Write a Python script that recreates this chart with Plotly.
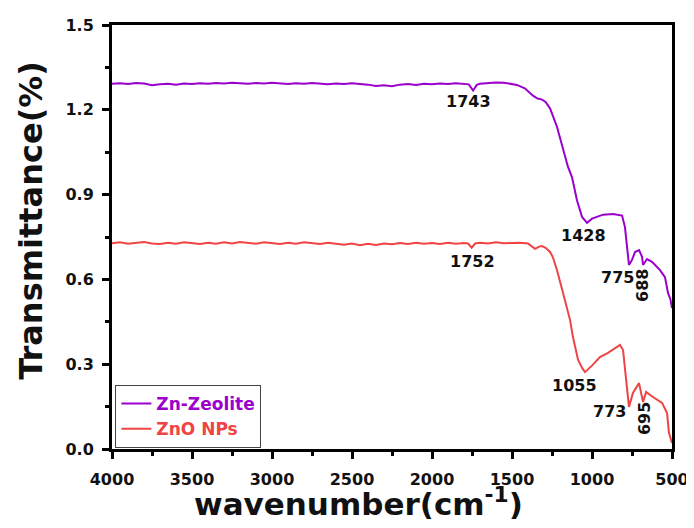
import plotly.graph_objects as go

# ---- data ----
zeolite_wn = [4000, 3950, 3900, 3850, 3800, 3750, 3700, 3650, 3600, 3550, 3500, 3450, 3400, 3350,
              3300, 3250, 3200, 3150, 3100, 3050, 3000, 2950, 2900, 2850, 2800, 2750, 2700, 2650,
              2600, 2550, 2500, 2450, 2400, 2350, 2300, 2250, 2200, 2150, 2100, 2050, 2000, 1950,
              1900, 1850, 1800, 1770, 1743, 1720, 1700, 1650, 1600, 1550, 1500, 1469, 1420, 1369,
              1340, 1312, 1290, 1262, 1219, 1181, 1150, 1125, 1094, 1062, 1031, 1000, 969, 930,
              869, 812, 794, 781, 769, 750, 731, 706, 687, 681, 656, 625, 575, 544, 525, 510, 500]
zeolite_t = [1.292, 1.294, 1.291, 1.295, 1.293, 1.287, 1.290, 1.292, 1.289, 1.293, 1.291, 1.294,
             1.292, 1.295, 1.293, 1.296, 1.294, 1.292, 1.295, 1.293, 1.296, 1.294, 1.291, 1.294,
             1.292, 1.295, 1.293, 1.290, 1.293, 1.291, 1.294, 1.292, 1.289, 1.284, 1.287, 1.283,
             1.289, 1.291, 1.288, 1.292, 1.290, 1.293, 1.291, 1.294, 1.292, 1.290, 1.268, 1.288,
             1.292, 1.295, 1.297, 1.296, 1.291, 1.288, 1.276, 1.250, 1.240, 1.236, 1.228, 1.205,
             1.140, 1.058, 0.998, 0.962, 0.880, 0.821, 0.800, 0.815, 0.821, 0.829, 0.831, 0.826,
             0.785, 0.715, 0.651, 0.669, 0.697, 0.704, 0.680, 0.651, 0.672, 0.662, 0.633, 0.608,
             0.552, 0.530, 0.499]

zno_wn = [4000, 3950, 3900, 3850, 3800, 3750, 3700, 3650, 3600, 3550, 3500, 3450, 3400, 3350,
          3300, 3250, 3200, 3150, 3100, 3050, 3000, 2950, 2900, 2850, 2800, 2750, 2700, 2650,
          2600, 2550, 2500, 2450, 2400, 2350, 2300, 2250, 2200, 2150, 2100, 2050, 2000, 1950,
          1900, 1850, 1800, 1775, 1752, 1730, 1700, 1650, 1600, 1550, 1500, 1450, 1400, 1387,
          1356, 1330, 1312, 1290, 1262, 1245, 1219, 1181, 1150, 1137, 1119, 1087, 1060, 1044,
          1000, 950, 900, 850, 825, 806, 781, 769, 744, 706, 681, 662, 619, 562, 531, 519, 500]
zno_t = [0.728, 0.731, 0.726, 0.730, 0.732, 0.727, 0.725, 0.730, 0.726, 0.731, 0.728, 0.725,
         0.730, 0.726, 0.731, 0.727, 0.732, 0.729, 0.726, 0.731, 0.728, 0.725, 0.730, 0.726,
         0.731, 0.727, 0.725, 0.730, 0.726, 0.723, 0.727, 0.721, 0.726, 0.722, 0.727, 0.724,
         0.729, 0.725, 0.730, 0.726, 0.729, 0.725, 0.730, 0.726, 0.729, 0.727, 0.712, 0.727,
         0.730, 0.727, 0.731, 0.728, 0.729, 0.730, 0.727, 0.722, 0.708, 0.716, 0.718, 0.712,
         0.697, 0.679, 0.633, 0.552, 0.481, 0.456, 0.396, 0.315, 0.285, 0.272, 0.295, 0.325,
         0.340, 0.358, 0.368, 0.350, 0.219, 0.149, 0.198, 0.233, 0.166, 0.202, 0.184, 0.163,
         0.127, 0.057, 0.021]

series_names = ["Zn-Zeolite", "ZnO NPs"]
series_colors = ["#9B00CC", "#F04444"]

peak_labels = ["1743", "1428", "775", "688", "1752", "1055", "773", "695"]
peak_x = [1769, 1056, 838, 681, 1750, 1112, 888, 675]
peak_y = [1.231, 0.754, 0.605, 0.577, 0.662, 0.226, 0.131, 0.106]
peak_angle = [0, 0, 0, -90, 0, 0, 0, -90]

x_ticks = [4000, 3500, 3000, 2500, 2000, 1500, 1000, 500]
y_ticks = [0.0, 0.3, 0.6, 0.9, 1.2, 1.5]

x_title = "wavenumber(cm<sup>-1</sup>)"
y_title = "Transmittance(%)"

FONT = "DejaVu Sans, Liberation Sans, Arial, sans-serif"
INK = "#111111"

fig = go.Figure()
for wn, t, name, col in [(zeolite_wn, zeolite_t, series_names[0], series_colors[0]),
                         (zno_wn, zno_t, series_names[1], series_colors[1])]:
    fig.add_trace(go.Scatter(
        x=wn, y=t, mode="lines",
        name=f"<b><span style='color:{col}'>{name}</span></b>",
        line=dict(color=col, width=2),
    ))

for lab, px, py, ang in zip(peak_labels, peak_x, peak_y, peak_angle):
    fig.add_annotation(x=px, y=py, xref="x", yref="y", text=f"<b>{lab}</b>",
                       showarrow=False, textangle=ang,
                       font=dict(family=FONT, size=16, color=INK))

# axis titles placed as paper annotations
fig.add_annotation(x=0.44, y=-0.125, xref="paper", yref="paper", text=f"<b>{x_title}</b>",
                   showarrow=False, xanchor="center", yanchor="middle",
                   font=dict(family=FONT, size=31, color=INK))
fig.add_annotation(x=-0.145, y=0.54, xref="paper", yref="paper", text=f"<b>{y_title}</b>",
                   showarrow=False, xanchor="center", yanchor="middle", textangle=-90,
                   font=dict(family=FONT, size=32, color=INK))

axis_common = dict(
    showline=True, linewidth=3, linecolor="black", mirror=True,
    ticks="outside", ticklen=7, tickwidth=3, tickcolor="black",
    showgrid=False, zeroline=False, ticklabelposition="outside",
    tickfont=dict(family=FONT, size=16, color=INK, weight="bold"),
)

fig.update_xaxes(
    range=[4000, 500], tickvals=x_ticks, ticktext=[str(v) for v in x_ticks],
    minor=dict(ticks="outside", ticklen=4, tickwidth=3, tickcolor="black", dtick=250, tick0=500),
    ticklabelstandoff=7,
    **axis_common,
)
fig.update_yaxes(
    range=[0, 1.5], tickvals=y_ticks, ticktext=[f"{v:.1f}" for v in y_ticks],
    minor=dict(ticks="outside", ticklen=4, tickwidth=3, tickcolor="black", dtick=0.15, tick0=0),
    ticklabelstandoff=5,
    **axis_common,
)

fig.update_layout(
    width=686, height=520,
    margin=dict(l=104, r=22, t=17, b=79, autoexpand=False),
    paper_bgcolor="white", plot_bgcolor="white",
    showlegend=True,
    legend=dict(x=0.006, y=0.151, xanchor="left", yanchor="top",
                bgcolor="white", bordercolor="#444444", borderwidth=1,
                font=dict(family=FONT, size=17, color=INK)),
)

fig.write_html("out.html")
